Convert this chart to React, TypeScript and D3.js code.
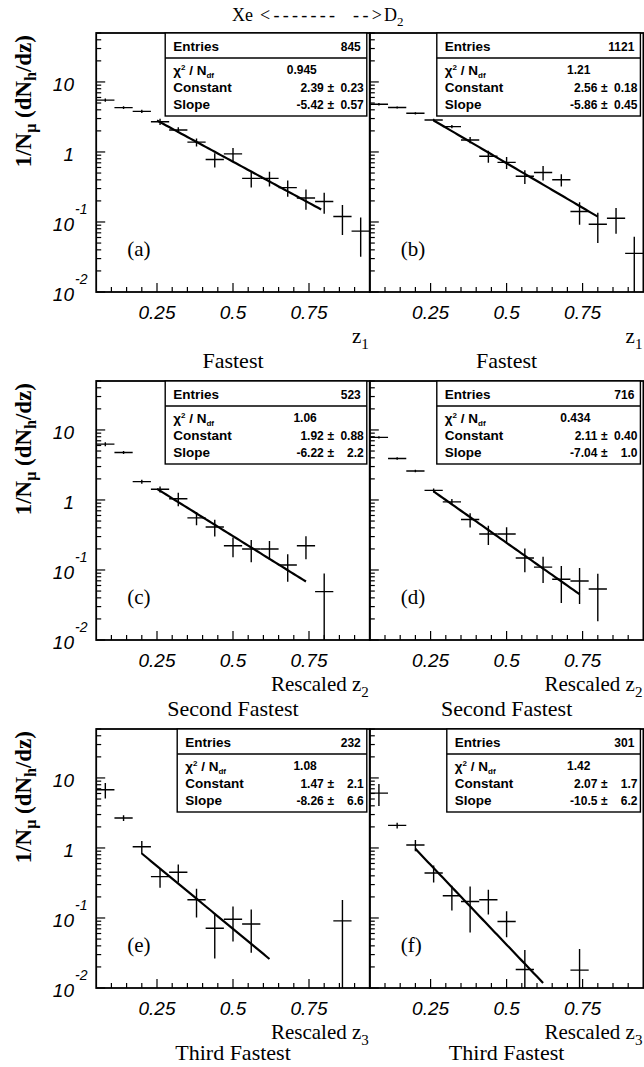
import React from "react";
import * as d3 from "d3";

// bin centres of z (bins are 0.06 wide)
const binCenters = [0.08, 0.14, 0.2, 0.26, 0.32, 0.38, 0.44, 0.5, 0.56, 0.62, 0.68, 0.74, 0.8, 0.86, 0.92];
const binHalf = 0.03;

// (a) Fastest, Xe
const valuesA = [5.5, 4.3, 3.8, 2.7, 2.06, 1.38, 0.78, 0.94, 0.42, 0.42, 0.31, 0.22, 0.196, 0.12, 0.074];
const errorsA = [0.3, 0.2, 0.2, 0.27, 0.2, 0.18, 0.18, 0.2, 0.11, 0.1, 0.08, 0.07, 0.065, 0.055, 0.042];
// (b) Fastest, D2
const valuesB = [4.81, 4.32, 3.57, 2.86, 2.3, 1.48, 0.87, 0.71, 0.45, 0.51, 0.4, 0.141, 0.093, 0.113, 0.0356];
const errorsB = [0.2, 0.15, 0.13, 0.12, 0.12, 0.15, 0.17, 0.14, 0.1, 0.12, 0.08, 0.05, 0.043, 0.045, 0.026];
// (c) Second fastest, Xe
const valuesC = [6.27, 4.77, 1.83, 1.42, 1.04, 0.555, 0.41, 0.222, 0.199, 0.199, 0.118, 0.222, 0.049, null, null];
const errorsC = [0.4, 0.25, 0.12, 0.14, 0.23, 0.12, 0.11, 0.07, 0.07, 0.06, 0.05, 0.08, 0.04, null, null];
// (d) Second fastest, D2
const valuesD = [7.83, 3.91, 2.59, 1.37, 0.94, 0.525, 0.327, 0.327, 0.148, 0.11, 0.0738, 0.0697, 0.0535, null, null];
const errorsD = [0.3, 0.15, 0.1, 0.09, 0.09, 0.12, 0.1, 0.08, 0.055, 0.045, 0.04, 0.037, 0.035, null, null];
// (e) Third fastest, Xe
const valuesE = [6.77, 2.68, 1.04, 0.39, 0.45, 0.182, 0.0713, 0.096, 0.082, null, null, null, null, 0.091, null];
const errorsE = [1.7, 0.25, 0.22, 0.12, 0.13, 0.08, 0.045, 0.05, 0.05, null, null, null, null, 0.09, null];
// (f) Third fastest, D2
const valuesF = [6.07, 2.1, 1.1, 0.44, 0.208, 0.172, 0.182, 0.089, 0.0184, null, null, 0.018, null, null, null];
const errorsF = [2.1, 0.2, 0.2, 0.12, 0.08, 0.11, 0.07, 0.036, 0.0164, null, null, 0.018, null, null, null];

// fit results (exp(constant + slope*z)) and fit ranges
const entries = ["845", "1121", "523", "716", "232", "301"];
const chi2 = ["0.945", "1.21", "1.06", "0.434", "1.08", "1.42"];
const constants = [2.39, 2.56, 1.92, 2.11, 1.47, 2.07];
const constantErrs = ["0.23", "0.18", "0.88", "0.40", "2.1", "1.7"];
const slopes = [-5.42, -5.86, -6.22, -7.04, -8.26, -10.5];
const slopeErrs = ["0.57", "0.45", "2.2", "1.0", "6.6", "6.2"];
const fitRanges = [[0.25, 0.79], [0.26, 0.8], [0.25, 0.74], [0.26, 0.74], [0.2, 0.62], [0.2, 0.62]];
const panelLabels = ["(a)", "(b)", "(c)", "(d)", "(e)", "(f)"];

const captions = ["Fastest", "Second Fastest", "Third Fastest"];
const xTitles = [["z", "1"], ["Rescaled z", "2"], ["Rescaled z", "3"]];
const yTickLabels = [[10, "10", ""], [1, "1", ""], [0.1, "10", "-1"], [0.01, "10", "-2"]];

const allValues = [valuesA, valuesB, valuesC, valuesD, valuesE, valuesF];
const allErrors = [errorsA, errorsB, errorsC, errorsD, errorsE, errorsF];

// layout
const W = 644;
const H = 1067;
const colLeft = [96.2, 369.8];
const rowTop = [33, 381, 729];
const panelW = 273.6;
const panelH = 259;
const boxInset = [69, 67, 69, 67, 81, 77];
const captionGap = [76, 76, 72];
const SANS = "'Liberation Sans', Arial, Helvetica, sans-serif";
const SERIF = "'Liberation Serif', 'Times New Roman', Times, serif";

function Panel({ i }: { i: number }) {
  const col = i % 2;
  const row = Math.floor(i / 2);
  const left = colLeft[col];
  const top = rowTop[row];
  const right = left + panelW;
  const bottom = top + panelH;

  const x = d3.scaleLinear().domain([0.05, 0.95]).range([left, right]);
  const y = d3.scaleLog().domain([0.01, 50]).range([bottom, top]);

  const pts = binCenters
    .map((z, k) => ({ z, v: allValues[i][k], e: allErrors[i][k] }))
    .filter((d) => d.v != null) as { z: number; v: number; e: number }[];

  const [f0, f1] = fitRanges[i];
  const fitZ = d3.range(f0, f1, 0.01).concat([f1]);
  const fitLine = d3
    .line<number>()
    .x((z) => x(z))
    .y((z) => y(Math.exp(constants[i] + slopes[i] * z)));

  const yTicks = y.ticks();
  const xTicks = d3.range(2, 19).map((k) => k * 0.05);
  const clipId = `clip-${i}`;

  const bx = left + boxInset[i];
  const bw = right - 3 - bx;
  const bh = 83;
  const R = bx + bw;

  return (
    <g>
      <defs>
        <clipPath id={clipId}>
          <rect x={left} y={top} width={panelW} height={panelH} />
        </clipPath>
      </defs>

      {/* ticks */}
      <g stroke="#000" strokeWidth={1.2}>
        {yTicks.map((t, k) => {
          const major = Math.abs(Math.log10(t) - Math.round(Math.log10(t))) < 1e-6;
          return <line key={k} x1={left} x2={left + (major ? 9 : 5)} y1={y(t)} y2={y(t)} />;
        })}
        {xTicks.map((t, k) => {
          const major = Math.round(t * 100) % 25 === 0;
          return <line key={k} x1={x(t)} x2={x(t)} y1={bottom} y2={bottom - (major ? 9 : 5)} />;
        })}
      </g>

      {/* data and fit */}
      <g clipPath={`url(#${clipId})`} stroke="#000" fill="none">
        <path d={fitLine(fitZ) || ""} strokeWidth={2.2} />
        {pts.map((d, k) => (
          <g key={k} strokeWidth={1.4}>
            <line x1={x(d.z - binHalf)} x2={x(d.z + binHalf)} y1={y(d.v)} y2={y(d.v)} />
            <line x1={x(d.z)} x2={x(d.z)} y1={y(d.v + d.e)} y2={y(Math.max(d.v - d.e, 1e-4))} />
          </g>
        ))}
      </g>

      <rect x={left} y={top} width={panelW} height={panelH} fill="none" stroke="#000" strokeWidth={1.8} />

      {/* stats box */}
      <g fontFamily={SANS} fontWeight="bold" fill="#000">
        <rect x={bx} y={top} width={bw} height={bh} fill="#fff" stroke="#000" strokeWidth={1.4} />
        <line x1={bx} x2={R} y1={top + 25} y2={top + 25} stroke="#000" strokeWidth={1.4} />
        <g fontSize={13.5}>
          <text x={bx + 8} y={top + 18}>Entries</text>
          <text x={bx + 8} y={top + 42}>
            χ<tspan dy={-5} fontSize={8}>2</tspan>
            <tspan dy={5}> / N</tspan>
            <tspan dy={3} fontSize={8}>df</tspan>
          </text>
          <text x={bx + 8} y={top + 59}>Constant</text>
          <text x={bx + 8} y={top + 76}>Slope</text>
        </g>
        <g fontSize={12}>
          <text x={R - 6} y={top + 18} textAnchor="end">{entries[i]}</text>
          <text x={R - 50} y={top + 41} textAnchor="end">{chi2[i]}</text>
          <text x={R - 43} y={top + 59} textAnchor="end">{String(constants[i])}</text>
          <text x={R - 36} y={top + 59} textAnchor="middle">±</text>
          <text x={R - 3} y={top + 59} textAnchor="end">{constantErrs[i]}</text>
          <text x={R - 43} y={top + 76} textAnchor="end">{String(slopes[i])}</text>
          <text x={R - 36} y={top + 76} textAnchor="middle">±</text>
          <text x={R - 3} y={top + 76} textAnchor="end">{slopeErrs[i]}</text>
        </g>
      </g>

      <text x={left + 31} y={top + 223} fontFamily={SERIF} fontSize={21}>{panelLabels[i]}</text>

      {/* x tick labels */}
      <g fontFamily={SANS} fontStyle="italic" fontSize={19} textAnchor="middle">
        {[0.25, 0.5, 0.75].map((t) => (
          <text key={t} x={x(t)} y={bottom + 27}>{String(t)}</text>
        ))}
      </g>

      {/* y tick labels, left column only */}
      {col === 0 && (
        <g fontFamily={SANS} fontStyle="italic" fontSize={19}>
          {yTickLabels.map(([v, base, sup]) => (
            <g key={String(v)}>
              <text x={74} y={y(v as number) + 9} textAnchor="end">{base}</text>
              {sup && <text x={75} y={y(v as number) - 8} fontSize={14}>{sup}</text>}
            </g>
          ))}
        </g>
      )}

      {/* y title */}
      {col === 0 && (
        <text
          transform={`translate(31,${top + 2}) rotate(-90)`}
          textAnchor="end"
          fontFamily={SERIF}
          fontWeight="bold"
          fontSize={23}
        >
          1/N<tspan dy={5} fontSize={16}>μ</tspan>
          <tspan dy={-5}> (dN</tspan>
          <tspan dy={5} fontSize={16}>h</tspan>
          <tspan dy={-5}>/dz)</tspan>
        </text>
      )}

      {/* x title and caption */}
      <text x={right - 1} y={bottom + 51} textAnchor="end" fontFamily={SERIF} fontSize={21}>
        {xTitles[row][0]}
        <tspan dy={6} fontSize={15}>{xTitles[row][1]}</tspan>
      </text>
      <text x={(left + right) / 2} y={bottom + captionGap[row]} textAnchor="middle" fontFamily={SERIF} fontSize={22}>
        {captions[row]}
      </text>
    </g>
  );
}

export default function App() {
  return (
    <svg
      width={W}
      height={H}
      viewBox={`0 0 ${W} ${H}`}
      style={{ position: "absolute", left: 0, top: 0, background: "#fff" }}
    >
      <rect width={W} height={H} fill="#fff" />
      <g fontFamily={SERIF} fontSize={18}>
        <text x={232} y={21}>Xe</text>
        <text x={260} y={21} textLength={75} lengthAdjust="spacing">&lt;-------</text>
        <text x={353} y={21} textLength={29} lengthAdjust="spacing">--&gt;</text>
        <text x={384} y={21}>
          D<tspan dy={5} fontSize={13}>2</tspan>
        </text>
      </g>
      {d3.range(6).map((i) => (
        <Panel key={i} i={i} />
      ))}
    </svg>
  );
}
